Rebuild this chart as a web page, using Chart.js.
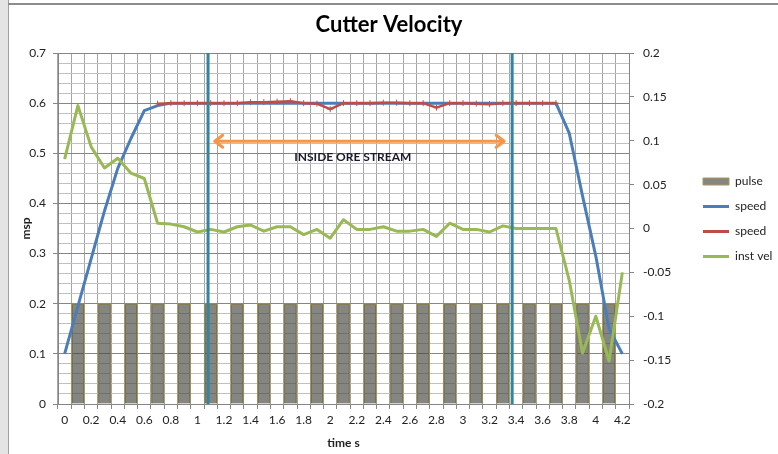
<!DOCTYPE html>
<html>
<head>
<meta charset="utf-8">
<script src="https://cdn.jsdelivr.net/npm/chart.js@4.4.1/dist/chart.umd.min.js"></script>
<style>
  html, body { margin: 0; padding: 0; background: #fff; }
  #wrap { position: relative; width: 778px; height: 454px; }
  canvas { display: block; }
</style>
</head>
<body>
<div id="wrap"><canvas id="c" width="778" height="454"></canvas></div>
<script>
// ---- data ----
const times = [0,0.1,0.2,0.3,0.4,0.5,0.6,0.7,0.8,0.9,1,1.1,1.2,1.3,1.4,1.5,1.6,1.7,1.8,1.9,2,2.1,2.2,2.3,2.4,2.5,2.6,2.7,2.8,2.9,3,3.1,3.2,3.3,3.4,3.5,3.6,3.7,3.8,3.9,4,4.1,4.2];

const pulse = [null,0.2,null,0.2,null,0.2,null,0.2,null,0.2,null,0.2,null,0.2,null,0.2,null,0.2,null,0.2,null,0.2,null,0.2,null,0.2,null,0.2,null,0.2,null,0.2,null,0.2,null,0.2,null,0.2,null,0.2,null,0.2,null];

const speedBlue = [0.1,0.195,0.29,0.385,0.47,0.53,0.585,0.595,
  0.6,0.6,0.6,0.6,0.6,0.6,0.6,0.6,0.6,0.6,0.6,0.6,0.6,0.6,0.6,0.6,0.6,0.6,0.6,0.6,0.6,0.6,0.6,0.6,0.6,0.6,0.6,0.6,0.6,0.6,
  0.54,0.415,0.295,0.15,0.1];

const speedRed = [null,null,null,null,null,null,null,
  0.599,0.6,0.6,0.6,0.6,0.6,0.6,0.602,0.602,0.603,0.604,0.6,0.599,0.588,0.6,0.6,0.6,0.601,0.601,0.6,0.6,0.591,0.6,0.6,0.599,0.598,0.6,0.6,0.6,0.6,0.6,
  null,null,null,null,null];

const instVel = [0.079,0.140,0.093,0.069,0.080,0.063,0.057,0.006,0.005,0.002,-0.004,-0.001,-0.004,0.002,0.004,-0.003,0.002,0.002,-0.007,-0.001,-0.011,0.010,-0.001,-0.001,0.002,-0.003,-0.003,-0.001,-0.009,0.006,-0.001,-0.001,-0.004,0.003,0,0,0,0,-0.059,-0.142,-0.100,-0.151,-0.050];

const seriesLabels = ['pulse', 'speed', 'speed', 'inst vel'];

// annotation positions (time, msp)
const oreMarkers = [1.08, 3.37];
const arrowSpan = [1.13, 3.31];
const arrowLevel = 0.524;
const oreText = 'INSIDE ORE STREAM';
const oreTextPos = [2.17, 0.4926];

const FONT = 'Lato, "Liberation Sans", sans-serif';
Chart.defaults.font.family = FONT;
Chart.defaults.color = '#222';

const isMajor = v => Math.abs(v * 10 - Math.round(v * 10)) < 1e-6;

const frame = {
  id: 'frame',
  beforeDraw(chart) {
    const ctx = chart.ctx;
    ctx.save();
    ctx.fillStyle = '#fff';
    ctx.fillRect(0, 0, chart.width, chart.height);
    ctx.fillStyle = '#e4e4e4';
    ctx.fillRect(0, 0, 8, chart.height);
    ctx.fillStyle = '#a0a0a0';
    ctx.fillRect(8, 0, 1, chart.height);
    ctx.fillStyle = '#8c8c8c';
    ctx.fillRect(8, 3, chart.width - 8, 2);
    ctx.restore();
  }
};

const legendShift = {
  id: 'legendShift',
  afterLayout(chart) {
    if (chart.legend) { chart.legend.top -= 8; chart.legend.bottom -= 8; }
  }
};

const annotations = {
  id: 'annotations',
  afterDatasetsDraw(chart) {
    const {ctx, chartArea, scales} = chart;
    const xs = scales.x, ys = scales.y;
    const xp = t => xs.getPixelForValue(t * 10);
    ctx.save();
    // teal boundary lines
    ctx.strokeStyle = '#31859c';
    ctx.lineWidth = 3;
    oreMarkers.forEach(t => {
      const x = xp(t);
      ctx.beginPath();
      ctx.moveTo(x, chartArea.top);
      ctx.lineTo(x, chartArea.bottom);
      ctx.stroke();
    });
    // orange double arrow
    const x1 = xp(arrowSpan[0]), x2 = xp(arrowSpan[1]), y = ys.getPixelForValue(arrowLevel);
    ctx.strokeStyle = '#f79646';
    ctx.lineWidth = 3;
    ctx.lineCap = 'round';
    ctx.lineJoin = 'round';
    ctx.beginPath();
    ctx.moveTo(x1, y); ctx.lineTo(x2, y);
    ctx.moveTo(x1 + 8, y - 6); ctx.lineTo(x1, y); ctx.lineTo(x1 + 8, y + 6);
    ctx.moveTo(x2 - 8, y - 6); ctx.lineTo(x2, y); ctx.lineTo(x2 - 8, y + 6);
    ctx.stroke();
    // label
    ctx.fillStyle = '#1a1a2e';
    ctx.font = 'bold 12px ' + FONT;
    ctx.textAlign = 'center';
    ctx.textBaseline = 'middle';
    ctx.fillText(oreText, xp(oreTextPos[0]), ys.getPixelForValue(oreTextPos[1]));
    ctx.restore();
  }
};

new Chart(document.getElementById('c'), {
  data: {
    labels: times,
    datasets: [
      {
        type: 'bar', label: seriesLabels[0], data: pulse, yAxisID: 'y',
        backgroundColor: 'rgba(70,70,64,0.66)', borderColor: '#a8985a', borderWidth: 1,
        barPercentage: 1, categoryPercentage: 1, order: 4
      },
      {
        type: 'line', label: seriesLabels[1], data: speedBlue, yAxisID: 'y',
        borderColor: '#4a7ebb', backgroundColor: '#4a7ebb', borderWidth: 3,
        pointRadius: 0, tension: 0, borderJoinStyle: 'round', order: 3
      },
      {
        type: 'line', label: seriesLabels[2], data: speedRed, yAxisID: 'y',
        borderColor: '#be4b48', backgroundColor: '#be4b48', borderWidth: 2.5,
        pointStyle: 'cross', pointRadius: 3, pointBorderWidth: 1,
        pointBorderColor: '#c0504d', tension: 0, borderJoinStyle: 'round', order: 2
      },
      {
        type: 'line', label: seriesLabels[3], data: instVel, yAxisID: 'y2',
        borderColor: '#98b954', backgroundColor: '#98b954', borderWidth: 3,
        pointRadius: 0, tension: 0, borderJoinStyle: 'round', order: 1
      }
    ]
  },
  options: {
    responsive: false,
    animation: false,
    devicePixelRatio: 1,
    layout: { padding: 0 },
    plugins: {
      title: {
        display: true, text: 'Cutter Velocity', color: '#000',
        font: { size: 22, weight: 'bold', family: FONT },
        padding: { top: 12, bottom: 14.6 }
      },
      legend: {
        position: 'right',
        maxWidth: 88,
        labels: {
          usePointStyle: true, pointStyleWidth: 26, boxHeight: 7, padding: 13,
          font: { size: 12 }, color: '#222',
          generateLabels(chart) {
            return chart.data.datasets.map((ds, i) => ({
              text: ds.label,
              datasetIndex: i,
              fillStyle: ds.type === 'bar' ? ds.backgroundColor : ds.borderColor,
              strokeStyle: ds.borderColor,
              lineWidth: ds.type === 'bar' ? 1 : 3,
              pointStyle: ds.type === 'bar' ? 'rect' : 'line',
              hidden: false,
              fontColor: '#222'
            }));
          }
        }
      },
      tooltip: { enabled: false }
    },
    scales: {
      x: {
        type: 'category',
        offset: true,
        grid: { offset: true, color: '#a6a6a6', tickLength: 5, tickColor: '#868686' },
        border: { color: '#868686' },
        ticks: {
          autoSkip: false, maxRotation: 0, padding: 4, font: { size: 12 },
          callback: (v, i) => (i % 2 === 0 ? String(times[i]) : '')
        },
        title: { display: true, text: 'time s', font: { size: 12, weight: 'bold' }, padding: { top: 0, bottom: 4 } },
        afterFit: s => { s.height = 50; }
      },
      y: {
        position: 'left', min: 0, max: 0.7,
        grid: {
          color: c => (isMajor(c.tick.value) ? '#868686' : '#c0c0c0'),
          tickColor: c => (isMajor(c.tick.value) ? '#868686' : 'rgba(0,0,0,0)'),
          tickLength: 5
        },
        border: { color: '#868686' },
        ticks: {
          stepSize: 0.02, autoSkip: false, padding: 7, font: { size: 12 },
          callback: v => (isMajor(v) ? (Math.abs(v) < 1e-9 ? '0' : (Math.round(v * 10) / 10).toString()) : '')
        },
        title: { display: true, text: 'msp', font: { size: 12, weight: 'bold' }, padding: { top: 19, bottom: 0 } },
        afterFit: s => { s.width = 58; }
      },
      y2: {
        position: 'right', min: -0.2, max: 0.2,
        grid: { drawOnChartArea: false, tickLength: 5, tickColor: '#868686' },
        border: { color: '#868686' },
        ticks: {
          stepSize: 0.05, autoSkip: false, padding: 9, font: { size: 12 },
          callback: v => (Math.round(v * 100) / 100).toString()
        },
        afterFit: s => { s.width = 61; }
      }
    }
  },
  plugins: [frame, legendShift, annotations]
});
</script>
</body>
</html>
